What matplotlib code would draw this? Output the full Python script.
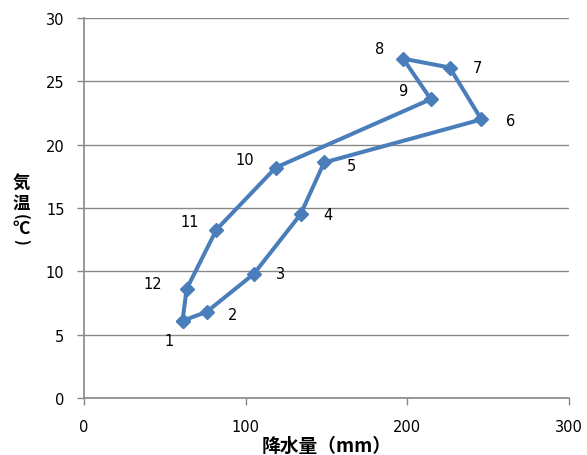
import matplotlib
matplotlib.use("Agg")
import matplotlib.pyplot as plt

months = ["1", "2", "3", "4", "5", "6", "7", "8", "9", "10", "11", "12"]
precip = [61.0, 75.9, 105.1, 134.0, 148.6, 245.9, 226.3, 197.5, 214.6, 118.7, 82.0, 63.5]
temp = [6.1, 6.8, 9.8, 14.5, 18.6, 22.0, 26.1, 26.8, 23.6, 18.2, 13.3, 8.6]
# label offsets in points
offsets = [(-10, -14), (19, -2), (19, 0), (20, 0), (20, -2), (21, -1), (20, 0),
           (-17, 7), (-20, 6), (-22, 6), (-19, 6), (-24, 4)]

x_ticks = [0, 100, 200, 300]
y_ticks = [0, 5, 10, 15, 20, 25, 30]

plt.rcParams['font.family'] = ['DejaVu Sans', 'Noto Sans CJK JP']

fig = plt.figure(figsize=(5.87, 4.56), dpi=100)
ax = fig.add_axes([0.143, 0.125, 0.826, 0.833])

color = "#4A7EBB"
x_loop = precip + [precip[0]]
y_loop = temp + [temp[0]]
ax.plot(x_loop, y_loop, color=color, lw=2.9, marker="D", ms=7, zorder=3,
        solid_joinstyle="miter")

for m, x, y, off in zip(months, precip, temp, offsets):
    ax.annotate(m, (x, y), xytext=off, textcoords="offset points",
                ha="center", va="center", fontsize=10.5, color="black")

ax.set_xlim(0, 300)
ax.set_ylim(0, 30)
ax.set_xticks(x_ticks)
ax.set_yticks(y_ticks)
ax.tick_params(axis="both", labelsize=10.5, colors="#888888", labelcolor="black",
               length=5, direction="out", width=1)
ax.tick_params(axis="x", pad=10)
ax.tick_params(axis="y", pad=9)
ax.yaxis.grid(True, color="#888888", lw=1)
ax.set_axisbelow(True)
for s in ["top", "right"]:
    ax.spines[s].set_visible(False)
for s in ["left", "bottom"]:
    ax.spines[s].set_color("#888888")
    ax.spines[s].set_linewidth(1.2)

cjk = ["Noto Sans CJK JP", "DejaVu Sans"]
fig.text(0.556, 1 - 446 / 456, "降水量（mm）", fontsize=13.5, fontweight="bold",
         family=cjk, ha="center", va="center")

# vertical y-axis title: 気温（℃）
ylab_chars = ["気", "温", "(", "℃", ")"]
ylab_y = [184, 204, 217, 229, 242]
ylab_rot = [0, 0, -90, 0, -90]
ylab_size = [12.5, 12.5, 11, 12.5, 11]
for ch, py, rot, fs in zip(ylab_chars, ylab_y, ylab_rot, ylab_size):
    fig.text(21 / 587, 1 - py / 456, ch, fontsize=fs, fontweight="bold",
             family=cjk, ha="center", va="center", rotation=rot)

fig.savefig("out.png", dpi=100)
